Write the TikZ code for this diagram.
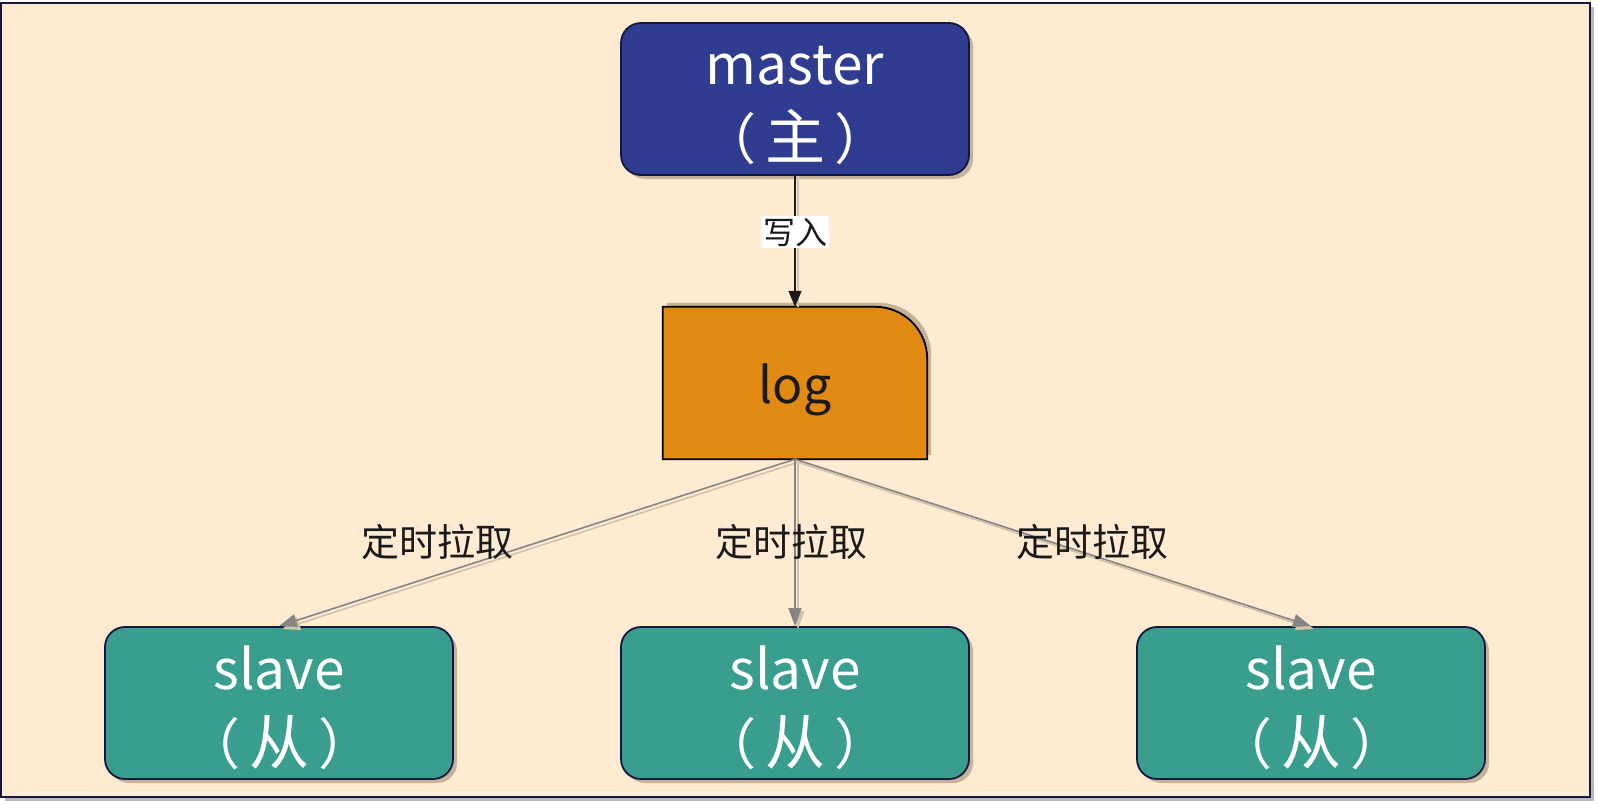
\documentclass[tikz,border=0pt]{standalone}
\usepackage{fontspec}
\setmainfont{Noto Sans CJK SC}
\usetikzlibrary{arrows.meta,shadows}
\definecolor{bgc}{HTML}{FFEBD1}
\definecolor{framec}{HTML}{141840}
\definecolor{masterc}{HTML}{2F3C8F}
\definecolor{slavec}{HTML}{3A9E8F}
\definecolor{logc}{HTML}{E08A13}
\definecolor{shadowc}{HTML}{C4B399}
\definecolor{linec}{HTML}{858585}
\definecolor{lshadowc}{HTML}{D2C2A6}
\definecolor{txtc}{HTML}{1A1A1A}
\tikzset{
  roundbox/.style={draw=framec, line width=1.8pt, rounded corners=20pt,
    minimum width=348pt, minimum height=152pt,
    drop shadow={shadow xshift=4pt, shadow yshift=-4pt, fill=shadowc, opacity=1}},
  masterbox/.style={roundbox, fill=masterc},
  slavebox/.style={roundbox, fill=slavec},
  boxtext/.style={text=white, align=center, inner sep=0pt,
    font=\fontsize{55}{75}\selectfont},
  pull/.style={draw=linec, line width=1.6pt, -{Triangle[length=18pt,width=13pt]}},
  pullshadow/.style={draw=lshadowc, line width=1.6pt, -{Triangle[length=18pt,width=13pt]}},
  pulllabel/.style={text=txtc, font=\fontsize{38}{42}\selectfont, inner sep=0pt},
}
\newcommand{\paren}[1]{（\hspace{9pt}{\fontsize{60}{75}\selectfont #1}\hspace{9pt}）}
\begin{document}
\begin{tikzpicture}[x=1pt,y=-1pt]
\useasboundingbox (0,0) rectangle (1598,804);
% outer frame
\fill[gray!55] (5,7) rectangle (1594,801);
\draw[framec, fill=bgc, line width=2pt] (1,3) rectangle (1590,797);

% nodes
\node[masterbox] (m) at (795,99) {};
\node[boxtext] (mt) at ([yshift=-6pt]m.center) {master\\\paren{主}};
\node[minimum width=264pt, minimum height=152pt, inner sep=0pt] (log) at (795,383) {};
\node[slavebox] (s1) at (279,703) {};
\node[slavebox] (s2) at (795,703) {};
\node[slavebox] (s3) at (1311,703) {};
\node[boxtext] (s1t) at ([yshift=-5pt]s1.center) {slave\\\paren{从}};
\node[boxtext] (s2t) at ([yshift=-5pt]s2.center) {slave\\\paren{从}};
\node[boxtext] (s3t) at ([yshift=-5pt]s3.center) {slave\\\paren{从}};

% log shape with shadow
\fill[shadowc] ([shift={(4pt,4pt)}]log.south west) -- ([shift={(4pt,4pt)}]log.north west)
  -- ([shift={(-48pt,4pt)}]log.north east) arc[start angle=90, end angle=0, radius=52pt]
  -- ([shift={(4pt,4pt)}]log.south east) -- cycle;
\draw[fill=logc, draw=black, line width=1.8pt] (log.south west) -- (log.north west)
  -- ([xshift=-52pt]log.north east) arc[start angle=90, end angle=0, radius=52pt]
  -- (log.south east) -- cycle;
\node[text=txtc, font=\fontsize{50}{60}\selectfont] (logtext) at ([yshift=-7pt]log.center) {log};

% write arrow
\draw[lshadowc, line width=1.6pt, transform canvas={xshift=3pt}] (m.south) -- (log.north);
\draw[txtc, line width=1.6pt, -{Triangle[length=16pt,width=13pt]}] (m.south) --
  node[pos=0.43, fill=white, text=txtc, font=\fontsize{32}{36}\selectfont, inner sep=2pt] (w) {写入} (log.north);

% pull arrows (shadows first)
\begin{scope}[transform canvas={xshift=3pt,yshift=-3pt}]
\draw[pullshadow] (log.south) -- (s1.north);
\draw[pullshadow] (log.south) -- (s2.north);
\draw[pullshadow] (log.south) -- (s3.north);
\end{scope}
\draw[pull] (log.south) -- (s1.north);
\draw[pull] (log.south) -- (s2.north);
\draw[pull] (log.south) -- (s3.north);

\node[pulllabel] (l1) at (437,542) {定时拉取};
\node[pulllabel] (l2) at (791,542) {定时拉取};
\node[pulllabel] (l3) at (1092,542) {定时拉取};
\end{tikzpicture}
\end{document}
